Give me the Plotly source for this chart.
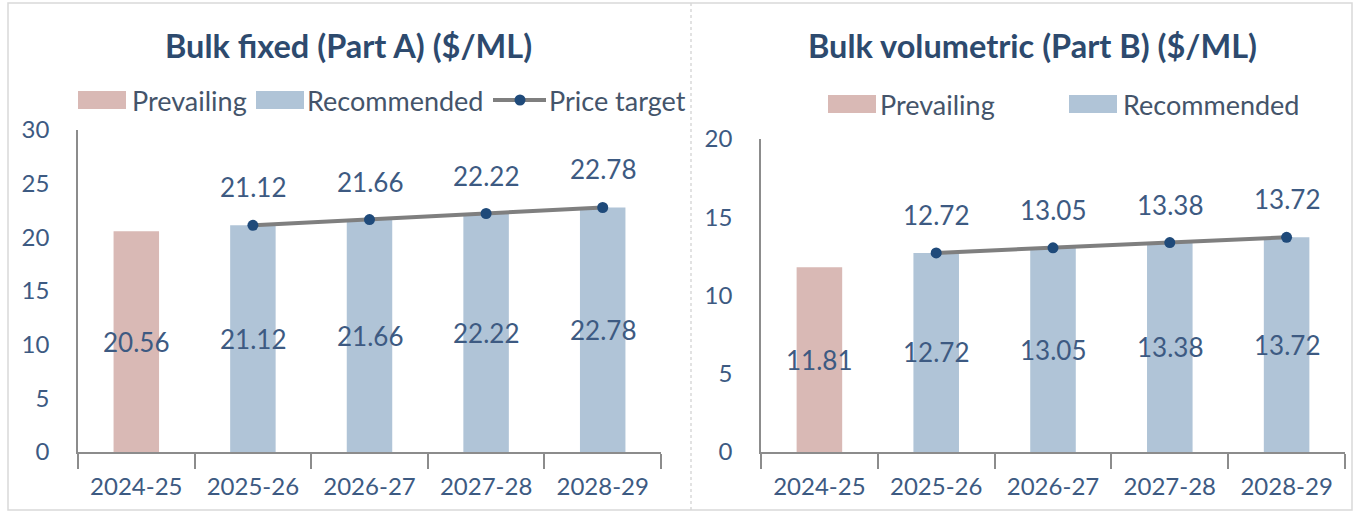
import plotly.graph_objects as go

# ---- data ----
years = ["2024-25", "2025-26", "2026-27", "2027-28", "2028-29"]
prev_years = ["2024-25"]
rec_years = ["2025-26", "2026-27", "2027-28", "2028-29"]

fixed_prevailing = [20.56]
fixed_recommended = [21.12, 21.66, 22.22, 22.78]
fixed_target = [21.12, 21.66, 22.22, 22.78]

vol_prevailing = [11.81]
vol_recommended = [12.72, 13.05, 13.38, 13.72]
vol_target = [12.72, 13.05, 13.38, 13.72]

titles = ["Bulk fixed (Part A) ($/ML)", "Bulk volumetric (Part B) ($/ML)"]
legend_names = ["Prevailing", "Recommended", "Price target"]

# ---- style ----
W, H = 1358, 513
C_PREV = "#D9B9B5"
C_REC = "#B0C4D7"
C_LINE = "#7F7F7F"
C_MARK = "#1F4A7A"
C_TEXT = "#3D5A82"
C_LEG = "#44546A"
C_TITLE = "#2D4A6E"
C_AXIS = "#8C8C8C"
C_FRAME = "#D9D9D9"
FONT = "Lato"
FS_TICK = 24
FS_LBL = 26
FS_LEG = 27
FS_TITLE = 32.5
BARW = 0.39


def px(x):
    return x / W


def py(y):
    return 1 - y / H


fig = go.Figure()

panels = [
    dict(prev=fixed_prevailing, rec=fixed_recommended, tgt=fixed_target, xa="x", ya="y"),
    dict(prev=vol_prevailing, rec=vol_recommended, tgt=vol_target, xa="x2", ya="y2"),
]

annotations = []
for p in panels:
    fig.add_trace(go.Bar(x=prev_years, y=p["prev"], width=BARW, marker_color=C_PREV,
                         marker_line_width=0, xaxis=p["xa"], yaxis=p["ya"],
                         showlegend=False, hoverinfo="skip"))
    fig.add_trace(go.Bar(x=rec_years, y=p["rec"], width=BARW, marker_color=C_REC,
                         marker_line_width=0, xaxis=p["xa"], yaxis=p["ya"],
                         showlegend=False, hoverinfo="skip"))
    fig.add_trace(go.Scatter(x=rec_years, y=p["tgt"], mode="lines+markers",
                             line=dict(color=C_LINE, width=4),
                             marker=dict(color=C_MARK, size=11),
                             xaxis=p["xa"], yaxis=p["ya"], showlegend=False,
                             hoverinfo="skip"))
    # labels at the centre of each bar
    for cat, v in list(zip(prev_years, p["prev"])) + list(zip(rec_years, p["rec"])):
        annotations.append(dict(x=cat, y=v / 2, xref=p["xa"], yref=p["ya"],
                                text=f"{v:.2f}", showarrow=False,
                                font=dict(family=FONT, size=FS_LBL, color=C_TEXT)))
    # price-target labels above the points
    for cat, v in zip(rec_years, p["tgt"]):
        annotations.append(dict(x=cat, y=v, xref=p["xa"], yref=p["ya"],
                                text=f"{v:.2f}", showarrow=False, yshift=38,
                                font=dict(family=FONT, size=FS_LBL, color=C_TEXT)))

annotations.append(dict(x=px(349), y=py(45), xref="paper", yref="paper", text=f"<b>{titles[0]}</b>",
                        xanchor="center", yanchor="middle",
                        showarrow=False, font=dict(family=FONT, size=FS_TITLE, color=C_TITLE)))
annotations.append(dict(x=px(1032), y=py(45), xref="paper", yref="paper", text=f"<b>{titles[1]}</b>",
                        xanchor="center", yanchor="middle",
                        showarrow=False, font=dict(family=FONT, size=FS_TITLE, color=C_TITLE)))

shapes = []
shapes.append(dict(type="rect", xref="paper", yref="paper", x0=px(8), x1=px(1352), y0=py(510), y1=py(3),
                   line=dict(color=C_FRAME, width=1.5), layer="below"))
shapes.append(dict(type="line", xref="paper", yref="paper", x0=px(691), x1=px(691), y0=py(510), y1=py(3),
                   line=dict(color=C_FRAME, width=1.5, dash="dot"), layer="below"))


def swatch(x0, x1, yc, color):
    shapes.append(dict(type="rect", xref="paper", yref="paper", x0=px(x0), x1=px(x1),
                       y0=py(yc + 9), y1=py(yc - 9), fillcolor=color, line=dict(width=0)))


def label(x, yc, text):
    annotations.append(dict(x=px(x), y=py(yc), xref="paper", yref="paper", text=text,
                            xanchor="left", yanchor="middle", showarrow=False,
                            font=dict(family=FONT, size=FS_LEG, color=C_LEG)))


swatch(78, 126, 100, C_PREV)
label(130, 100, legend_names[0])
swatch(256, 304, 100, C_REC)
label(305, 100, legend_names[1])
shapes.append(dict(type="line", xref="paper", yref="paper", x0=px(493), x1=px(546), y0=py(100), y1=py(100),
                   line=dict(color=C_LINE, width=4)))
shapes.append(dict(type="circle", xref="paper", yref="paper", xsizemode="pixel", ysizemode="pixel",
                   xanchor=px(520), yanchor=py(100), x0=-5.5, x1=5.5, y0=-5.5, y1=5.5,
                   fillcolor=C_MARK, line=dict(width=0)))
label(547, 100, legend_names[2])

swatch(828, 876, 104, C_PREV)
label(878, 104, legend_names[0])
swatch(1069, 1117, 104, C_REC)
label(1121, 104, legend_names[1])

xaxis_common = dict(type="category", categoryorder="array", categoryarray=years,
                    showline=True, linecolor=C_AXIS, linewidth=1.5, automargin=False,
                    ticks="outside", tickson="boundaries", ticklen=15, tickcolor=C_AXIS, tickwidth=1.5,
                    ticklabelstandoff=12,
                    showgrid=False, zeroline=False,
                    tickfont=dict(family=FONT, size=FS_TICK, color=C_TEXT), fixedrange=True)
yaxis_common = dict(showline=True, linecolor=C_AXIS, linewidth=1.5, ticks="", dtick=5,
                    showgrid=False, zeroline=False, ticklabelstandoff=22, automargin=False,
                    tickfont=dict(family=FONT, size=FS_TICK, color=C_TEXT), fixedrange=True)

fig.update_layout(
    width=W, height=H,
    margin=dict(l=0, r=0, t=0, b=0, autoexpand=False),
    paper_bgcolor="white", plot_bgcolor="white",
    barmode="overlay",
    showlegend=False,
    xaxis=dict(domain=[px(78), px(661)], anchor="y", **xaxis_common),
    yaxis=dict(domain=[py(452), py(130)], anchor="x", range=[0, 30], **yaxis_common),
    xaxis2=dict(domain=[px(761), px(1345)], anchor="y2", **xaxis_common),
    yaxis2=dict(domain=[py(452), py(139)], anchor="x2", range=[0, 20], **yaxis_common),
    annotations=annotations,
    shapes=shapes,
)

fig.write_html("out.html", config={"displayModeBar": False},
               post_script="document.body.style.margin='0';document.body.style.overflow='hidden';")
